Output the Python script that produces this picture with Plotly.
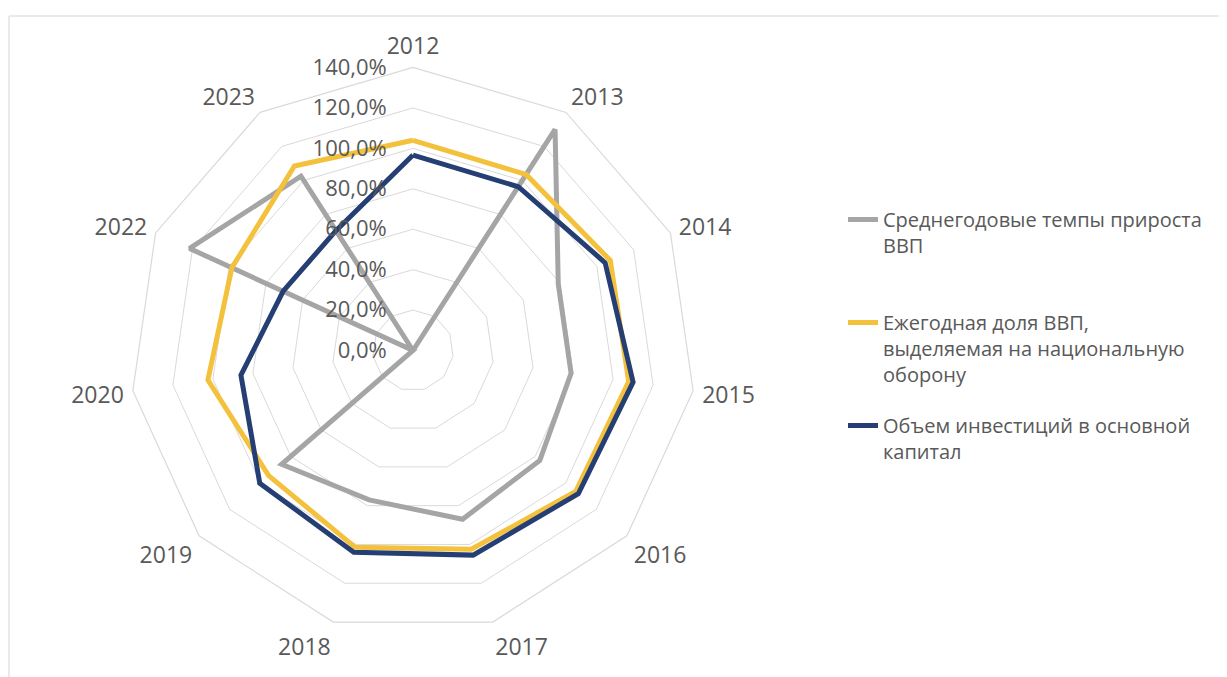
import plotly.graph_objects as go

categories = ["2012", "2013", "2014", "2015", "2016", "2017", "2018", "2019", "2020", "2022", "2023"]
gdp_growth = [0, 130, 79, 79, 83, 87, 77, 86, 0, 121.5, 102.5]
defense_share = [104, 103.5, 107.3, 107.8, 106.5, 102.5, 101.5, 94.5, 102.5, 98.5, 108.5]
investment = [96.7, 96.3, 104.5, 110, 108.2, 105.5, 104, 100.3, 86, 70.6, 70.5]

radial_ticks = [0, 20, 40, 60, 80, 100, 120, 140]
radial_ticktext = ["0,0%", "20,0%", "40,0%", "60,0%", "80,0%", "100,0%", "120,0%", "140,0%"]

series_names = [
    "Среднегодовые темпы прироста<br>ВВП<br> ",
    "Ежегодная доля ВВП,<br>выделяемая на национальную<br>оборону",
    "Объем инвестиций в основной<br>капитал",
]
series_colors = ["#A5A5A5", "#F4C13C", "#253F75"]
series_values = [gdp_growth, defense_share, investment]

W, H = 1227, 677
OFF = 8  # page body margin of the browser
cx, cy, R = 413 - OFF, 350.5 - OFF, 283

fig = go.Figure()
for name, vals, col in zip(series_names, series_values, series_colors):
    fig.add_trace(go.Scatterpolar(
        r=vals + vals[:1],
        theta=categories + categories[:1],
        mode="lines",
        name=name,
        line=dict(color=col, width=5),
        legendgroup=name,
    ))

font_family = "Open Sans, Noto Sans, sans-serif"
text_color = "#595959"
FS = 20

fig.update_layout(
    width=W, height=H,
    margin=dict(l=0, r=0, t=0, b=0),
    paper_bgcolor="white",
    plot_bgcolor="white",
    font=dict(family=font_family, size=FS, color=text_color),
    polar=dict(
        domain=dict(x=[(cx - R) / W, (cx + R) / W], y=[(H - cy - R) / H, (H - cy + R) / H]),
        gridshape="linear",
        bgcolor="white",
        angularaxis=dict(
            rotation=90,
            direction="clockwise",
            showgrid=False,
            showline=True,
            linecolor="#D9D9D9",
            linewidth=1.2,
            ticks="outside",
            ticklen=4,
            tickcolor="rgba(0,0,0,0)",
            tickfont=dict(size=23, color=text_color),
        ),
        radialaxis=dict(
            range=[0, 140],
            angle=90,
            side="counterclockwise",
            tickvals=radial_ticks,
            ticktext=radial_ticktext,
            showline=False,
            showgrid=True,
            gridcolor="#D9D9D9",
            gridwidth=1.2,
            ticks="outside",
            ticklen=18,
            tickcolor="rgba(0,0,0,0)",
            tickangle=90,
            tickfont=dict(size=22, color=text_color),
        ),
    ),
    legend=dict(
        x=835 / W, y=1 - 192 / H,
        xanchor="left", yanchor="top",
        font=dict(size=FS, color=text_color),
        valign="top",
        traceorder="grouped",
        tracegroupgap=22,
        itemwidth=30,
    ),
    shapes=[
        dict(type="line", xref="paper", yref="paper", x0=1 / W, x1=1, y0=1 - 8 / H, y1=1 - 8 / H,
             line=dict(color="#E3E3E3", width=1.5)),
        dict(type="line", xref="paper", yref="paper", x0=1 / W, x1=1 / W, y0=0, y1=1 - 8 / H,
             line=dict(color="#E3E3E3", width=1.5)),
    ],
)

fig.write_html("out.html")
